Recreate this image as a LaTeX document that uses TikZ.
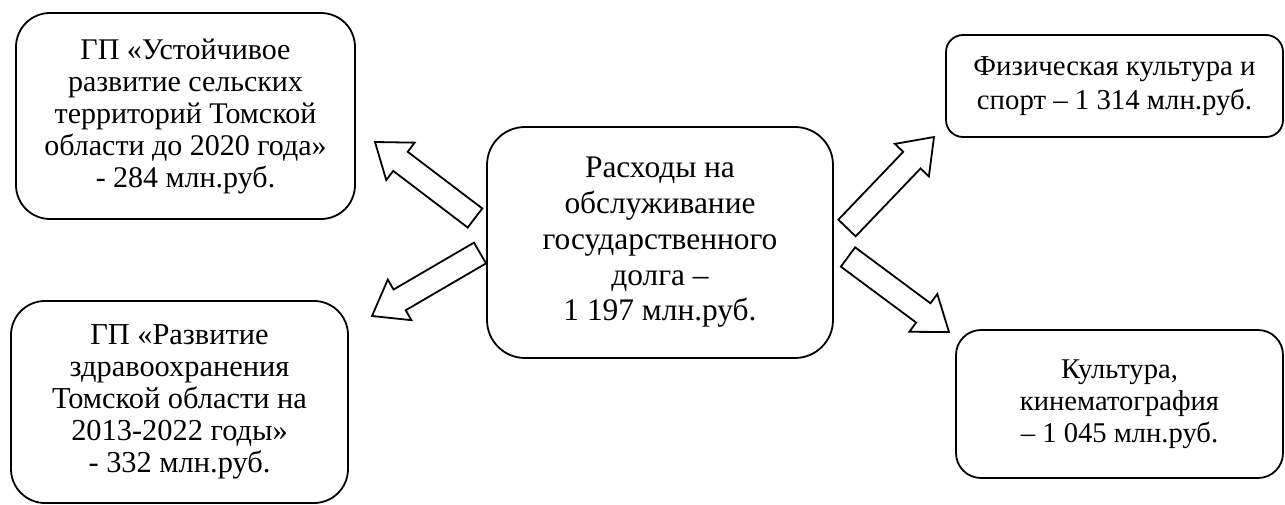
\documentclass[tikz,border=0pt]{standalone}
\usepackage{fontspec}
\setmainfont{Liberation Serif}
\usepackage{tikz}
\usetikzlibrary{calc}
\def\blockarrow(#1)(#2){\draw[fatline] ($(#1)!6pt!90:(#2)$) -- ($($(#2)!16pt!(#1)$)!6pt!90:(#2)$) -- ($($(#2)!16pt!(#1)$)!11.75pt!90:(#2)$) -- (#2) -- ($($(#2)!16pt!(#1)$)!11.75pt!-90:(#2)$) -- ($($(#2)!16pt!(#1)$)!6pt!-90:(#2)$) -- ($(#1)!6pt!-90:(#2)$) -- cycle;}
\tikzset{
	box/.style={draw, line width=0.9pt, align=center, inner sep=2pt},
	fatline/.style={line width=0.9pt, line join=miter}
}

\begin{document}
\begin{tikzpicture}[x=0.5pt, y=-0.5pt]
		%%%%% START %%%%%
		\useasboundingbox (0, 0) rectangle (1285, 504);
		
		\node[box, rounded corners=19pt, minimum width=173pt, minimum height=115.5pt, font=\fontsize{15.7}{17.9}\selectfont] (debt) at (660, 242.5) {Расходы на\\обслуживание\\государственного\\долга –\\1 197 млн.руб.};
		
		\node[box, rounded corners=17pt, minimum width=169.5pt, minimum height=103pt, font=\fontsize{15}{16}\selectfont] (rural) at (185.5, 116) {ГП «Устойчивое\\развитие сельских\\территорий Томской\\области до 2020 года»\\- 284 млн.руб.};
		\node[box, rounded corners=17pt, minimum width=168.5pt, minimum height=101pt, font=\fontsize{15.2}{16}\selectfont] (health) at (179.5, 402) {ГП «Развитие\\здравоохранения\\Томской области на\\2013-2022 годы»\\- 332 млн.руб.};
		
		\node[box, rounded corners=8.5pt, minimum width=168.5pt, minimum height=51pt, font=\fontsize{14.4}{17}\selectfont] (sport) at (1114.5, 86) {Физическая культура и\\спорт – 1 314 млн.руб.};
		\node[box, rounded corners=12.5pt, minimum width=163.5pt, minimum height=74pt, font=\fontsize{14.3}{16}\selectfont] (culture) at (1119.5, 404) {Культура,\\кинематография\\– 1 045 млн.руб.};
		
		\coordinate (a1) at (475, 218);
		\coordinate (b1) at (375, 142);
		\coordinate (a2) at (480, 253);
		\coordinate (b2) at (372, 316);
		\coordinate (a3) at (847, 228);
		\coordinate (b3) at (934, 137);
		\coordinate (a4) at (848, 257);
		\coordinate (b4) at (949, 332);
		
		\blockarrow(a1)(b1)
		\blockarrow(a2)(b2)
		\blockarrow(a3)(b3)
		\blockarrow(a4)(b4)
		%%%%% END %%%%%
\end{tikzpicture}
\end{document}
